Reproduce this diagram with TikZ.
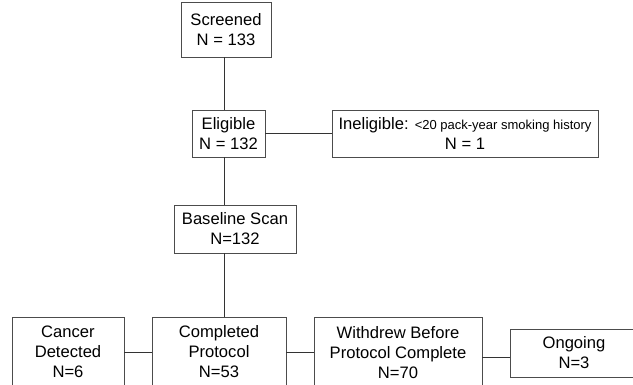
\documentclass[tikz,border=0pt]{standalone}
\usepackage{fontspec}
\setmainfont{Liberation Sans}
\usetikzlibrary{positioning}
\tikzset{
	% box of the chart
	flowbox/.style={
		draw=black!70,
		line width=0.8pt,
		align=center,
		inner sep=0pt,
		font=\fontsize{16.6}{20}\selectfont
	}, %
	% joining line
	link/.style={
		draw=black!80,
		line width=0.8pt
	} %
}

\begin{document}
\begin{tikzpicture}[x=1pt, y=-1pt]
			\useasboundingbox (0,0) rectangle (633,385);
			\clip (0,0) rectangle (633,385);
			
			%% Screening
			\node [flowbox, minimum width=90, minimum height=55] (screened) at (226,29.5) {Screened\\N = 133};
			\node [flowbox, minimum width=73, minimum height=47] (eligible) at (228.5,133.5) {Eligible\\N = 132};
			\node [flowbox, minimum width=266, minimum height=47] (inelig) at (465,133.5)
			{Ineligible: {\fontsize{13}{16}\selectfont <20 pack-year smoking history}\\N = 1};
			\node [flowbox, minimum width=122, minimum height=48] (baseline) at (235,229) {Baseline Scan\\N=132};
			
			%% Outcomes
			\node [flowbox, minimum width=112, minimum height=70] (cancer) at (68,352) {Cancer\\Detected\\N=6};
			\node [flowbox, minimum width=134, minimum height=70] (completed) at (219,352) {Completed\\Protocol\\N=53};
			\node [flowbox, minimum width=168, minimum height=72] (withdrew) at (398,353) {Withdrew Before\\Protocol Complete\\N=70};
			\node [flowbox, minimum width=128, minimum height=48] (ongoing) at (574,353) {Ongoing\\N=3};
			
			%% Lines
			\coordinate (spine) at (224.5,0);
			\draw [link] (spine |- screened.south) -- (spine |- eligible.north);
			\draw [link] (spine |- eligible.south) -- (spine |- baseline.north);
			\draw [link] (spine |- baseline.south) -- (spine |- completed.north);
			\draw [link] (eligible.east) -- (inelig.west);
			\draw [link] (cancer.east) -- (completed.west);
			\draw [link] (completed.east) -- (completed.east -| withdrew.west);
			\draw [link] ([yshift=-4.5pt]withdrew.east) -- ([yshift=-4.5pt]withdrew.east -| ongoing.west);
		\end{tikzpicture}
\end{document}
